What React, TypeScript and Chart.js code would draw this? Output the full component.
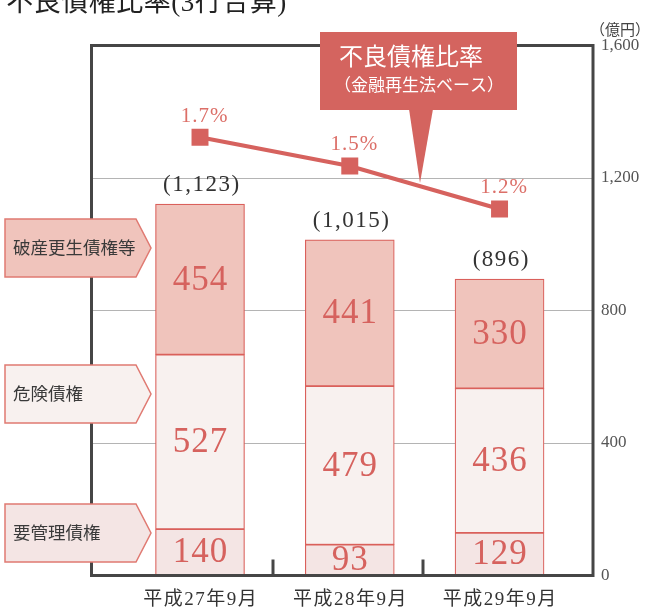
import React, { useEffect, useRef } from 'react';
import { Chart, registerables } from 'chart.js';

Chart.register(...registerables);

const categories = ['平成27年9月', '平成28年9月', '平成29年9月'];
const seriesNames = ['要管理債権', '危険債権', '破産更生債権等'];
const youKanri = [140, 93, 129];
const kiken = [527, 479, 436];
const hasan = [454, 441, 330];
const totals = ['(1,123)', '(1,015)', '(896)'];
const ratios = [1.7, 1.5, 1.2];
const ratioLabels = ['1.7%', '1.5%', '1.2%'];
const yTicks = [0, 400, 800, 1200, 1600];

const SERIF = "'Liberation Serif', 'Noto Sans CJK JP', serif";
const RED = '#d6625e';
const LABEL_RED = '#dc6f68';
const FILLS = ['#f4e5e4', '#f8f1ef', '#f0c4bc'];

function spacedText(ctx: any, text: string, x: number, y: number, spacing: number) {
  ctx.letterSpacing = `${spacing}px`;
  ctx.fillText(text, x + spacing / 2, y);
  ctx.letterSpacing = '0px';
}

const decor = {
  id: 'decor',
  beforeDraw(chart: any) {
    const ctx = chart.ctx;
    ctx.save();
    ctx.fillStyle = '#ffffff';
    ctx.fillRect(0, 0, chart.width, chart.height);
    // cut-off title
    ctx.fillStyle = '#222';
    ctx.font = `27px ${SERIF}`;
    ctx.textAlign = 'left';
    ctx.textBaseline = 'alphabetic';
    spacedText(ctx, '不良債権比率(3行合算)', 6, 10.5, 0.5);
    // unit
    ctx.fillStyle = '#444';
    ctx.font = `15px ${SERIF}`;
    ctx.textAlign = 'center';
    ctx.textBaseline = 'middle';
    ctx.fillText('（億円）', 620, 31);
    ctx.restore();
  },
  afterDatasetsDraw(chart: any) {
    const ctx = chart.ctx;
    const area = chart.chartArea;
    const xs = chart.scales.x;
    ctx.save();
    // frame
    ctx.strokeStyle = '#464646';
    ctx.lineWidth = 3;
    ctx.strokeRect(area.left, area.top, area.right - area.left, area.bottom - area.top);
    // inward tick marks between categories
    for (let i = 0; i < categories.length - 1; i++) {
      const px = Math.round(xs.getPixelForValue(i + 0.5)) - 2;
      ctx.beginPath();
      ctx.moveTo(px, area.bottom);
      ctx.lineTo(px, area.bottom - 16);
      ctx.stroke();
    }
    // category labels
    ctx.fillStyle = '#333';
    ctx.font = `19px ${SERIF}`;
    ctx.textAlign = 'center';
    ctx.textBaseline = 'middle';
    categories.forEach((c, i) => {
      spacedText(ctx, c, xs.getPixelForValue(i), 600, 1.5);
    });
    // left series labels
    const boxes = [
      { name: seriesNames[2], top: 219, fill: FILLS[2] },
      { name: seriesNames[1], top: 365, fill: FILLS[1] },
      { name: seriesNames[0], top: 504, fill: FILLS[0] },
    ];
    boxes.forEach((b) => {
      const h = 58;
      ctx.beginPath();
      ctx.moveTo(5, b.top);
      ctx.lineTo(136, b.top);
      ctx.lineTo(151, b.top + h / 2);
      ctx.lineTo(136, b.top + h);
      ctx.lineTo(5, b.top + h);
      ctx.closePath();
      ctx.fillStyle = b.fill;
      ctx.fill();
      ctx.strokeStyle = '#e07a72';
      ctx.lineWidth = 1.5;
      ctx.stroke();
      ctx.fillStyle = '#3a3a3a';
      ctx.font = `17.5px ${SERIF}`;
      ctx.textAlign = 'left';
      ctx.textBaseline = 'middle';
      ctx.fillText(b.name, 13, b.top + h / 2 + 1);
    });
    // callout
    ctx.fillStyle = '#d4645f';
    ctx.fillRect(320, 32, 197, 78);
    ctx.beginPath();
    ctx.moveTo(409, 109);
    ctx.lineTo(433, 109);
    ctx.lineTo(420, 183);
    ctx.closePath();
    ctx.fill();
    ctx.fillStyle = '#ffffff';
    ctx.textAlign = 'center';
    ctx.textBaseline = 'middle';
    ctx.font = `24px ${SERIF}`;
    ctx.fillText('不良債権比率', 411, 59);
    ctx.font = `17px ${SERIF}`;
    ctx.fillText('（金融再生法ベース）', 419, 87);
    // bar value labels
    const seriesVals = [youKanri, kiken, hasan];
    ctx.fillStyle = RED;
    ctx.font = `35px ${SERIF}`;
    seriesVals.forEach((vals, d) => {
      const meta = chart.getDatasetMeta(d);
      meta.data.forEach((el: any, i: number) => {
        const p = el.getProps(['x', 'y', 'base'], true);
        spacedText(ctx, String(vals[i]), p.x, (p.y + p.base) / 2 + 1, 1);
      });
    });
    // totals
    const topMeta = chart.getDatasetMeta(2);
    ctx.fillStyle = '#333';
    ctx.font = `23px ${SERIF}`;
    topMeta.data.forEach((el: any, i: number) => {
      const p = el.getProps(['x', 'y'], true);
      spacedText(ctx, totals[i], p.x + 1, p.y - 19, 1.5);
    });
    // ratio labels
    const lineMeta = chart.getDatasetMeta(3);
    ctx.fillStyle = LABEL_RED;
    ctx.font = `21px ${SERIF}`;
    lineMeta.data.forEach((el: any, i: number) => {
      const p = el.getProps(['x', 'y'], true);
      spacedText(ctx, ratioLabels[i], p.x + 4, p.y - 21, 1);
    });
    ctx.restore();
  },
};

export default function App() {
  const ref = useRef<HTMLCanvasElement>(null);
  useEffect(() => {
    document.body.style.margin = '0';
    const barDs = [youKanri, kiken, hasan].map((vals, d) => ({
      type: 'bar' as const,
      label: seriesNames[d],
      data: vals.map((v, i) => ({ x: i, y: v })),
      backgroundColor: FILLS[d],
      borderColor: '#da605b',
      borderWidth: 1.2,
      borderSkipped: false,
      barThickness: 89,
      xAxisID: 'x',
      yAxisID: 'y',
      order: 1,
    }));
    const chart = new Chart(ref.current!, {
      type: 'bar',
      data: {
        datasets: [
          ...barDs,
          {
            type: 'line' as const,
            label: '不良債権比率',
            data: ratios.map((v, i) => ({ x: i, y: v })),
            borderColor: RED,
            backgroundColor: RED,
            borderWidth: 4,
            pointStyle: 'rect',
            pointRadius: 12,
            pointBorderWidth: 0,
            xAxisID: 'x',
            yAxisID: 'yPct',
            order: 0,
          } as any,
        ],
      },
      options: {
        animation: false,
        responsive: true,
        maintainAspectRatio: false,
        events: [],
        layout: { padding: { left: 91.5, top: 45.5, right: 0, bottom: 32.5 } },
        plugins: { legend: { display: false }, tooltip: { enabled: false } },
        scales: {
          x: {
            type: 'linear',
            display: false,
            offset: false,
            bounds: 'data',
            min: -0.7245,
            max: 2.624,
            stacked: true,
          },
          y: {
            type: 'linear',
            position: 'right',
            min: 0,
            max: 1600,
            stacked: true,
            grid: { color: '#b4b4b4', lineWidth: 1, drawTicks: false },
            border: { display: false },
            afterBuildTicks: (scale: any) => {
              scale.ticks = yTicks.map((v) => ({ value: v }));
            },
            afterFit: (scale: any) => {
              scale.width = 54;
            },
            ticks: {
              padding: 8,
              color: '#555',
              font: { family: SERIF, size: 17 },
              callback: (v: any) => Number(v).toLocaleString('en-US'),
            },
          },
          yPct: {
            type: 'linear',
            display: false,
            min: -1.356,
            max: 2.34,
          },
        },
      } as any,
      plugins: [decor],
    });
    return () => chart.destroy();
  }, []);
  return (
    <div style={{ width: 647, height: 608, position: 'relative' }}>
      <canvas ref={ref} />
    </div>
  );
}
